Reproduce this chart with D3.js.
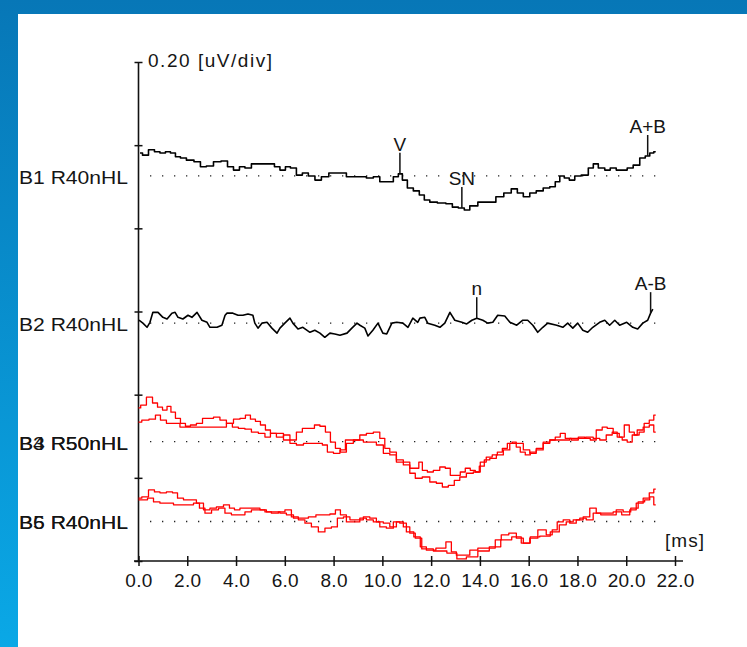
<!DOCTYPE html>
<html>
<head>
<meta charset="utf-8">
<script src="https://cdn.jsdelivr.net/npm/d3@7"></script>
<style>
  html, body { margin: 0; padding: 0; }
  body { width: 747px; height: 647px; overflow: hidden; }
  text { font-family: "Liberation Sans", Arial, sans-serif; fill: #151515; }
</style>
</head>
<body>
<script>
// time ticks [ms]
let xTicks = [0, 2, 4, 6, 8, 10, 12, 14, 16, 18, 20, 22];
// channel labels and their baseline offset on the uV axis (0.20 uV/div, 6 div)
let channels = ['B1 R40nHL', 'B2 R40nHL', 'B3 R50nHL', 'B4 R50nHL', 'B5 R40nHL', 'B6 R40nHL'];
let offsets = [0.926, 0.572, 0.287, 0.287, 0.095, 0.095];
let colors = ['black', 'black', 'red', 'red', 'red', 'red'];

// traces: [ms, uV relative to baseline]
let b1 = [[0.06,0.055],[0.27,0.050],[0.55,0.063],[0.76,0.058],[1.00,0.055],[1.21,0.058],[1.41,0.055],[1.62,0.046],[1.82,0.043],[2.11,0.038],[2.44,0.034],[2.64,0.022],[2.93,0.024],[3.22,0.034],[3.55,0.036],[3.75,0.022],[4.04,0.014],[4.24,0.022],[4.49,0.019],[4.77,0.029],[4.98,0.029],[5.47,0.029],[5.68,0.022],[5.92,0.014],[6.13,0.022],[6.33,0.019],[6.62,0.002],[6.82,0.007],[7.11,0.000],[7.36,-0.010],[7.64,-0.002],[7.97,0.007],[8.38,0.007],[8.67,-0.002],[8.95,-0.002],[9.20,-0.002],[9.49,-0.005],[9.77,-0.002],[10.02,-0.014],[10.31,-0.014],[10.59,-0.002],[10.72,0.005],[10.92,-0.010],[11.13,-0.029],[11.41,-0.036],[11.62,-0.046],[11.82,-0.058],[12.07,-0.063],[12.44,-0.065],[12.77,-0.067],[12.97,-0.075],[13.26,-0.077],[13.46,-0.082],[13.71,-0.072],[14.12,-0.063],[14.49,-0.063],[14.82,-0.050],[15.14,-0.041],[15.43,-0.031],[15.64,-0.041],[15.92,-0.050],[16.17,-0.041],[16.45,-0.036],[16.74,-0.029],[16.99,-0.026],[17.19,-0.014],[17.36,0.000],[17.56,-0.005],[17.77,-0.010],[18.01,0.000],[18.30,0.002],[18.59,0.019],[18.71,0.029],[19.00,0.019],[19.24,0.014],[19.45,0.019],[19.73,0.014],[19.94,0.014],[20.14,0.019],[20.43,0.026],[20.68,0.043],[20.88,0.048],[21.05,0.055],[21.21,0.058]];
let b2 = [[0.02,0.007],[0.18,0.000],[0.35,-0.010],[0.47,0.002],[0.59,0.026],[0.80,0.026],[1.00,0.014],[1.17,0.010],[1.37,0.024],[1.50,0.026],[1.62,0.014],[1.82,0.010],[2.03,0.019],[2.19,0.014],[2.40,0.026],[2.60,0.007],[2.81,0.002],[2.93,-0.010],[3.22,-0.010],[3.42,-0.005],[3.55,0.019],[3.63,0.024],[3.87,0.024],[4.08,0.019],[4.28,0.019],[4.49,0.022],[4.69,0.019],[4.77,0.000],[4.90,-0.012],[5.06,0.000],[5.27,0.002],[5.47,-0.012],[5.68,-0.024],[5.80,-0.012],[6.00,0.000],[6.21,0.012],[6.33,0.000],[6.54,-0.014],[6.74,-0.010],[7.03,-0.022],[7.23,-0.017],[7.44,-0.024],[7.64,-0.034],[7.85,-0.024],[8.05,-0.026],[8.26,-0.029],[8.55,-0.024],[8.75,-0.012],[8.96,0.000],[9.08,-0.005],[9.28,-0.012],[9.41,-0.031],[9.61,-0.017],[9.82,0.000],[10.02,-0.024],[10.18,-0.026],[10.39,0.000],[10.59,0.002],[10.84,0.000],[11.05,-0.010],[11.25,0.012],[11.45,0.002],[11.54,0.012],[11.74,0.014],[11.86,0.000],[12.15,-0.005],[12.36,-0.010],[12.56,0.000],[12.77,0.026],[12.97,0.007],[13.26,0.002],[13.46,-0.002],[13.67,0.007],[13.87,0.012],[14.12,0.007],[14.32,0.000],[14.53,0.002],[14.73,0.019],[15.02,0.017],[15.23,0.002],[15.51,-0.005],[15.76,0.007],[15.96,0.007],[16.17,-0.005],[16.37,-0.022],[16.58,-0.010],[16.78,0.000],[17.15,-0.005],[17.40,-0.010],[17.60,0.000],[17.81,-0.012],[18.01,0.000],[18.22,-0.017],[18.42,-0.022],[18.63,-0.010],[18.91,0.002],[19.12,0.007],[19.32,-0.005],[19.53,0.007],[19.73,-0.005],[20.02,0.002],[20.27,-0.010],[20.47,-0.014],[20.68,0.000],[20.88,0.007],[21.00,0.024],[21.09,0.034]];
let b3 = [[0.00,0.081],[0.18,0.088],[0.47,0.107],[0.68,0.093],[0.88,0.083],[1.09,0.076],[1.25,0.085],[1.41,0.071],[1.62,0.056],[1.82,0.044],[2.03,0.037],[2.23,0.040],[2.52,0.044],[2.73,0.056],[2.93,0.056],[3.22,0.059],[3.46,0.052],[3.75,0.044],[4.04,0.054],[4.28,0.056],[4.49,0.064],[4.69,0.054],[4.90,0.049],[5.10,0.040],[5.31,0.028],[5.51,0.020],[5.80,0.011],[6.09,0.016],[6.33,0.004],[6.62,0.023],[6.82,0.032],[7.11,0.032],[7.32,0.040],[7.56,0.037],[7.77,0.023],[7.97,-0.001],[8.18,-0.016],[8.38,-0.025],[8.67,-0.004],[8.95,0.004],[9.20,0.016],[9.49,0.020],[9.77,0.023],[10.02,0.008],[10.18,-0.016],[10.43,-0.025],[10.72,-0.044],[11.00,-0.056],[11.25,-0.076],[11.45,-0.088],[11.82,-0.085],[12.07,-0.097],[12.36,-0.100],[12.56,-0.109],[12.85,-0.105],[13.05,-0.093],[13.30,-0.085],[13.59,-0.076],[13.87,-0.073],[14.08,-0.059],[14.28,-0.044],[14.53,-0.040],[14.82,-0.032],[15.10,-0.020],[15.35,-0.004],[15.64,-0.004],[15.92,-0.020],[16.17,-0.028],[16.45,-0.020],[16.74,-0.004],[16.99,0.004],[17.27,0.004],[17.56,0.004],[17.81,0.008],[18.18,0.008],[18.50,0.011],[18.79,0.008],[19.04,0.004],[19.32,0.016],[19.53,0.023],[19.73,0.011],[19.94,0.004],[20.14,-0.001],[20.35,0.016],[20.55,0.028],[20.84,0.035],[21.05,0.040],[21.21,0.023]];
let b4 = [[0.00,0.047],[0.27,0.052],[0.59,0.054],[0.80,0.064],[1.00,0.052],[1.29,0.044],[1.58,0.044],[1.82,0.035],[2.11,0.035],[2.40,0.035],[2.64,0.035],[2.93,0.035],[3.22,0.035],[3.46,0.035],[3.75,0.044],[3.95,0.035],[4.24,0.032],[4.49,0.030],[4.77,0.023],[5.06,0.020],[5.31,0.011],[5.51,0.020],[5.80,0.020],[6.09,0.004],[6.33,-0.004],[6.62,-0.008],[6.91,-0.004],[7.15,-0.004],[7.44,-0.004],[7.64,-0.008],[7.85,-0.025],[8.14,-0.028],[8.38,-0.020],[8.59,0.004],[8.79,0.004],[9.08,0.004],[9.36,-0.001],[9.61,-0.001],[9.90,-0.008],[10.18,-0.028],[10.43,-0.032],[10.72,-0.049],[11.00,-0.049],[11.25,-0.064],[11.45,-0.064],[11.54,-0.049],[11.74,-0.069],[11.95,-0.073],[12.23,-0.069],[12.48,-0.061],[12.68,-0.064],[12.89,-0.081],[13.09,-0.081],[13.30,-0.073],[13.50,-0.064],[13.71,-0.069],[13.91,-0.073],[14.12,-0.049],[14.40,-0.037],[14.61,-0.032],[14.82,-0.025],[15.02,-0.016],[15.23,-0.004],[15.43,-0.001],[15.55,-0.013],[15.76,-0.025],[15.96,-0.032],[16.17,-0.025],[16.45,-0.016],[16.74,-0.001],[16.99,0.004],[17.19,0.011],[17.40,0.020],[17.60,0.008],[17.89,0.004],[18.18,0.011],[18.42,0.008],[18.63,0.004],[18.91,0.028],[19.12,0.035],[19.32,0.032],[19.61,0.020],[19.82,0.011],[20.02,0.040],[20.23,0.023],[20.43,0.016],[20.63,0.023],[20.84,0.044],[21.05,0.052],[21.21,0.064]];
let b5 = [[0.00,0.056],[0.27,0.059],[0.55,0.076],[0.76,0.071],[1.00,0.069],[1.29,0.071],[1.50,0.069],[1.70,0.056],[1.99,0.052],[2.23,0.052],[2.52,0.044],[2.81,0.028],[3.05,0.032],[3.34,0.035],[3.63,0.040],[3.83,0.032],[4.04,0.028],[4.28,0.032],[4.57,0.032],[4.86,0.032],[5.10,0.028],[5.39,0.023],[5.68,0.023],[5.92,0.020],[6.21,0.016],[6.50,0.008],[6.82,0.008],[7.11,0.011],[7.44,0.016],[7.73,0.016],[7.97,0.018],[8.18,0.028],[8.38,0.016],[8.67,-0.001],[8.95,-0.001],[9.20,0.008],[9.49,0.004],[9.77,-0.001],[10.02,-0.013],[10.31,-0.016],[10.59,-0.001],[10.84,-0.004],[11.13,-0.025],[11.45,-0.037],[11.66,-0.061],[11.95,-0.069],[12.44,-0.064],[12.77,-0.049],[12.89,-0.073],[13.18,-0.081],[13.46,-0.081],[13.71,-0.069],[14.12,-0.064],[14.53,-0.064],[14.73,-0.044],[15.02,-0.032],[15.35,-0.028],[15.64,-0.040],[15.92,-0.052],[16.17,-0.040],[16.58,-0.020],[16.86,-0.032],[17.07,-0.020],[17.27,-0.001],[17.56,0.004],[17.81,-0.004],[18.09,0.004],[18.38,0.011],[18.63,0.032],[18.91,0.020],[19.32,0.020],[19.61,0.023],[20.02,0.016],[20.27,0.028],[20.55,0.044],[20.84,0.056],[21.05,0.069],[21.21,0.078]];
let b6 = [[0.00,0.052],[0.27,0.052],[0.47,0.056],[0.76,0.047],[1.00,0.044],[1.29,0.044],[1.58,0.040],[1.82,0.040],[2.11,0.040],[2.40,0.044],[2.60,0.032],[2.85,0.020],[3.14,0.028],[3.42,0.032],[3.67,0.020],[3.95,0.016],[4.24,0.016],[4.49,0.023],[4.77,0.028],[5.06,0.028],[5.31,0.023],[5.59,0.020],[5.88,0.023],[6.13,0.028],[6.41,0.011],[6.70,0.004],[6.95,-0.004],[7.23,-0.013],[7.52,-0.025],[7.77,-0.016],[8.05,-0.013],[8.26,0.008],[8.55,0.011],[8.79,0.004],[9.08,0.004],[9.36,0.011],[9.61,0.008],[9.90,-0.001],[10.18,-0.004],[10.43,-0.013],[10.72,-0.001],[11.00,-0.013],[11.25,-0.028],[11.45,-0.040],[11.78,-0.066],[12.40,-0.071],[12.89,-0.076],[13.22,-0.090],[13.67,-0.085],[14.16,-0.071],[14.61,-0.061],[15.10,-0.044],[15.51,-0.037],[15.88,-0.052],[16.25,-0.037],[16.66,-0.035],[17.11,-0.025],[17.40,-0.008],[17.68,-0.001],[17.97,0.004],[18.22,0.008],[18.50,0.004],[18.79,0.020],[19.12,0.016],[19.45,0.016],[19.73,0.028],[20.02,0.023],[20.35,0.032],[20.63,0.047],[20.88,0.052],[21.05,0.059],[21.21,0.040]];
let traces = [b1, b2, b3, b4, b5, b6];

// peak markers: channel index, latency [ms], label
let markers = [
  {ch: 0, t: 10.72, label: 'V'},
  {ch: 0, t: 13.26, label: 'SN'},
  {ch: 0, t: 20.88, label: 'A+B'},
  {ch: 1, t: 13.87, label: 'n'},
  {ch: 1, t: 21.00, label: 'A-B'}
];

let W = 747, H = 647;
let svg = d3.select('body').append('svg').attr('width', W).attr('height', H);

// blue frame
let defs = svg.append('defs');
let grad = defs.append('linearGradient').attr('id', 'frame').attr('x1', 0).attr('y1', 0).attr('x2', 0).attr('y2', 1);
grad.append('stop').attr('offset', '0%').attr('stop-color', '#0777b7');
grad.append('stop').attr('offset', '100%').attr('stop-color', '#0aa8e6');
svg.append('rect').attr('width', W).attr('height', H).attr('fill', 'url(#frame)');
svg.append('rect').attr('x', 18).attr('y', 14).attr('width', W - 18).attr('height', H - 14).attr('fill', 'white');

let x = d3.scaleLinear().domain([0, 22]).range([138.5, 675]);
let y = d3.scaleLinear().domain([0, 1.2]).range([561, 62]);

// x axis
let xAxis = svg.append('g').attr('transform', 'translate(0,561)')
  .call(d3.axisBottom(x).tickValues(xTicks).tickFormat(d3.format('.1f')).tickSize(5).tickPadding(8));
xAxis.select('.domain').remove();
xAxis.selectAll('.tick line').attr('y1', -5).attr('stroke', '#111').attr('stroke-width', 1.5);
xAxis.selectAll('.tick text').attr('font-size', '19px').attr('font-family', 'Liberation Sans, Arial, sans-serif')
  .attr('fill', '#151515').attr('letter-spacing', '0.3px');
svg.append('line').attr('x1', 134).attr('x2', 683).attr('y1', 561).attr('y2', 561).attr('stroke', '#111').attr('stroke-width', 1.6);

// y axis (divisions only)
let yAxis = svg.append('g').attr('transform', 'translate(138.5,0)')
  .call(d3.axisLeft(y).tickValues(d3.range(0, 7).map(d => d * 0.2)).tickFormat('').tickSize(4));
yAxis.select('.domain').remove();
yAxis.selectAll('.tick line').attr('x2', 4).attr('x1', -4).attr('stroke', '#111').attr('stroke-width', 1.5);
svg.append('line').attr('x1', 138.5).attr('x2', 138.5).attr('y1', y(1.2)).attr('y2', 561).attr('stroke', '#111').attr('stroke-width', 1.6);

svg.append('text').attr('x', 148).attr('y', 67).attr('font-size', '19px')
  .attr('textLength', 124).attr('lengthAdjust', 'spacing').text('0.20 [uV/div]');
svg.append('text').attr('x', 665).attr('y', 547).attr('font-size', '19px')
  .attr('textLength', 39).attr('lengthAdjust', 'spacing').text('[ms]');

// dotted baselines
let bases = Array.from(new Set(offsets));
svg.selectAll('line.base').data(bases).enter().append('line')
  .attr('class', 'base')
  .attr('x1', x(0) + 11.5).attr('x2', x(21.4))
  .attr('y1', d => y(d)).attr('y2', d => y(d))
  .attr('stroke', '#222').attr('stroke-width', 1.3).attr('stroke-dasharray', '1.3,10.7');

// channel labels
svg.selectAll('text.ch').data(channels).enter().append('text')
  .attr('class', 'ch')
  .attr('x', 19).attr('y', (d, i) => y(offsets[i]) + 8)
  .attr('font-size', '19px')
  .attr('textLength', 109).attr('lengthAdjust', 'spacingAndGlyphs')
  .text(d => d);

// traces: B2 is zigzag, the rest look like a stepped signal
traces.forEach((tr, i) => {
  let line = d3.line()
    .x(d => x(d[0]))
    .y(d => y(offsets[i] + d[1]))
    .curve(i === 1 ? d3.curveLinear : d3.curveStep);
  svg.append('path').datum(tr)
    .attr('fill', 'none')
    .attr('stroke', colors[i])
    .attr('stroke-width', i < 2 ? 1.6 : 1.3)
    .attr('stroke-linejoin', 'round')
    .attr('d', line);
});

// markers
function valueAt(tr, t) {
  let best = tr[0];
  tr.forEach(p => { if (Math.abs(p[0] - t) < Math.abs(best[0] - t)) best = p; });
  return best[1];
}
let mk = svg.selectAll('g.mk').data(markers).enter().append('g').attr('class', 'mk');
mk.append('line')
  .attr('x1', d => x(d.t)).attr('x2', d => x(d.t))
  .attr('y1', d => y(offsets[d.ch] + valueAt(traces[d.ch], d.t)))
  .attr('y2', d => y(offsets[d.ch] + valueAt(traces[d.ch], d.t)) - 21)
  .attr('stroke', '#111').attr('stroke-width', 1.5);
mk.append('text')
  .attr('x', d => x(d.t)).attr('y', d => y(offsets[d.ch] + valueAt(traces[d.ch], d.t)) - 23)
  .attr('text-anchor', 'middle').attr('font-size', '19px')
  .text(d => d.label);
</script>
</body>
</html>
